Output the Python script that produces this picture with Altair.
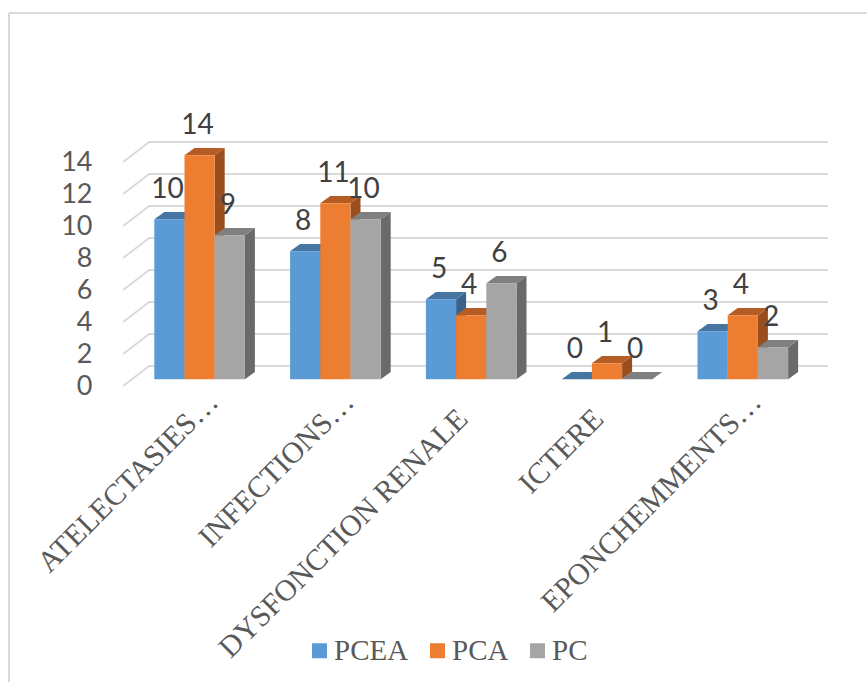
import altair as alt
import pandas as pd

categories = ["ATELECTASIES…", "INFECTIONS…", "DYSFONCTION RENALE", "ICTERE", "EPONCHEMMENTS…"]
series = ["PCEA", "PCA", "PC"]
values = {
    "PCEA": [10, 8, 5, 0, 3],
    "PCA": [14, 11, 4, 1, 4],
    "PC": [9, 10, 6, 0, 2],
}
front_colors = ["#5B9BD5", "#ED7D31", "#A5A5A5"]
top_colors = ["#4575A0", "#B55C24", "#7F7F7F"]
side_colors = ["#39628A", "#9A4E1E", "#6A6A6A"]
y_ticks = [0, 2, 4, 6, 8, 10, 12, 14]

# Pseudo-3D geometry, x in category slots and y in value units
SLOT_PX = 135.8
UNIT_PX = 16.0
WALL_DX = 26.3 / SLOT_PX
WALL_DY = 20.0 / UNIT_PX
BAR_W = 30.2 / SLOT_PX
BAR_DX = 10.0 / SLOT_PX
BAR_DY = 7.2 / UNIT_PX
BAR_BASE = 6.7 / UNIT_PX
BAR_SHIFT = 8.7 / SLOT_PX
LABEL_PULL_X = 22.0
LABEL_PULL_Y = 17.0
PLOT_W = 705
PLOT_H = 224
X_MAX = PLOT_W / SLOT_PX

x_scale = alt.Scale(domain=[0, X_MAX], nice=False, zero=False)
y_scale = alt.Scale(domain=[0, 14], nice=False, zero=False)
color_scale = alt.Scale(domain=series, range=front_colors)

# Every layer shares one value axis definition so that they merge cleanly
y_axis = alt.Axis(
    values=y_ticks,
    title=None,
    grid=False,
    domain=False,
    ticks=False,
    labelOverlap=False,
    labelPadding=31,
    labelFont="Lato",
    labelFontSize=27,
    labelColor="#595959",
)


def bar_left(i, s):
    return i + 0.5 + BAR_SHIFT + (s - 1.5) * BAR_W


def enc_x():
    return alt.X("x:Q", scale=x_scale, axis=None)


def enc_y():
    return alt.Y("y:Q", scale=y_scale, axis=y_axis, stack=None)


# Back wall and left wall gridlines
grid_rows = []
for v in y_ticks:
    for order, (px, py) in enumerate([(0, v), (WALL_DX, v + WALL_DY), (X_MAX, v + WALL_DY)]):
        grid_rows.append({"level": v, "order": order, "x": px, "y": py})
grid = alt.Chart(pd.DataFrame(grid_rows)).mark_line(
    color="#D9D9D9", strokeWidth=1.8, clip=False
).encode(
    x=enc_x(),
    y=enc_y(),
    detail="level:N",
    order="order:Q",
)

layers = [grid]
for s, name in enumerate(series):
    side_rows, top_rows, front_rows = [], [], []
    for i, v in enumerate(values[name]):
        left = bar_left(i, s)
        right = left + BAR_W
        y0 = BAR_BASE
        y1 = v + BAR_BASE
        side_rows += [
            {"bar": i, "x": right, "y": y1, "y2": y0},
            {"bar": i, "x": right + BAR_DX, "y": y1 + BAR_DY, "y2": y0 + BAR_DY},
        ]
        top_rows += [
            {"bar": i, "x": left, "y": y1, "y2": y1},
            {"bar": i, "x": left + BAR_DX, "y": y1 + BAR_DY, "y2": y1},
            {"bar": i, "x": right, "y": y1 + BAR_DY, "y2": y1},
            {"bar": i, "x": right + BAR_DX, "y": y1 + BAR_DY, "y2": y1 + BAR_DY},
        ]
        front_rows.append(
            {"x": left, "x2": right, "y": y1, "y2": y0, "series": name, "value": v}
        )
    for rows, color in ((side_rows, side_colors[s]), (top_rows, top_colors[s])):
        layers.append(
            alt.Chart(pd.DataFrame(rows)).mark_area(color=color, opacity=1).encode(
                x=enc_x(),
                y=enc_y(),
                y2="y2:Q",
                detail="bar:N",
            )
        )
    layers.append(
        alt.Chart(pd.DataFrame(front_rows)).mark_rect().encode(
            x=enc_x(),
            x2="x2:Q",
            y=enc_y(),
            y2="y2:Q",
            color=alt.Color(
                "series:N",
                scale=color_scale,
                legend=alt.Legend(
                    title=None,
                    orient="none",
                    legendX=182,
                    legendY=474,
                    direction="horizontal",
                    symbolType="square",
                    symbolSize=225,
                    symbolStrokeWidth=0,
                    labelFont="Liberation Serif",
                    labelFontSize=29,
                    labelColor="#595959",
                    labelOffset=0,
                    columnPadding=14,
                ),
            ),
        )
    )

# Value labels above each bar
label_rows = []
for s, name in enumerate(series):
    for i, v in enumerate(values[name]):
        label_rows.append(
            {"x": bar_left(i, s) + BAR_W / 2, "y": v + BAR_BASE, "text": str(v)}
        )
layers.append(
    alt.Chart(pd.DataFrame(label_rows)).mark_text(
        font="Lato", fontSize=28, color="#404040", dy=-29, dx=-2, baseline="middle"
    ).encode(x=enc_x(), y=enc_y(), text="text:N")
)

# Slanted category labels under the floor; untruncated names sit further down the slant
cat_rows = []
for i, c in enumerate(categories):
    truncated = c.endswith("…")
    cat_rows.append(
        {
            "x": i + 0.5 - (0.0 if truncated else LABEL_PULL_X / SLOT_PX),
            "y": 0.0 - (0.0 if truncated else LABEL_PULL_Y / UNIT_PX),
            "text": c,
        }
    )
layers.append(
    alt.Chart(pd.DataFrame(cat_rows)).mark_text(
        font="Liberation Serif",
        fontSize=30,
        color="#595959",
        angle=315,
        align="right",
        baseline="middle",
        dx=8,
        dy=24,
    ).encode(x=enc_x(), y=enc_y(), text="text:N")
)

# Thin frame around the whole figure
layers.append(
    alt.Chart(pd.DataFrame({"k": [0]})).mark_rule(color="#D9D9D9", strokeWidth=2).encode(
        x=alt.value(-114), y=alt.value(-149), y2=alt.value(520)
    )
)
layers.append(
    alt.Chart(pd.DataFrame({"k": [0]})).mark_rule(color="#D9D9D9", strokeWidth=2).encode(
        x=alt.value(-114), x2=alt.value(744), y=alt.value(-149)
    )
)

chart = alt.layer(*layers).resolve_scale(x="shared", y="shared").properties(
    width=PLOT_W,
    height=PLOT_H,
    padding={"left": 123, "top": 162, "right": 39, "bottom": 296},
    autosize=alt.AutoSizeParams(type="none"),
    background="#FFFFFF",
).configure_view(stroke=None)

chart.save("out.html", embed_options={"renderer": "svg", "actions": False})
